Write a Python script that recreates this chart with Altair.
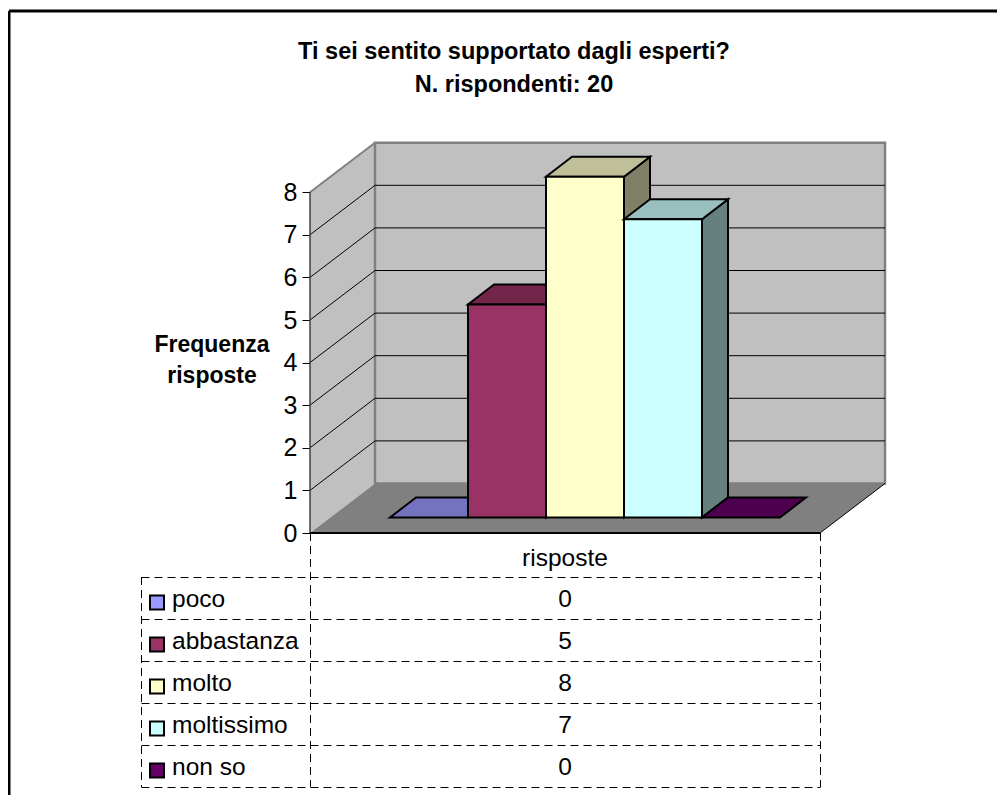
import altair as alt
import pandas as pd

categories = ["poco", "abbastanza", "molto", "moltissimo", "non so"]
values = [0, 5, 8, 7, 0]
front_colors = ["#9999ff", "#993366", "#ffffcc", "#ccffff", "#660066"]
top_colors = ["#7373bf", "#732649", "#bfbf99", "#99bfbf", "#4d004d"]
side_colors = ["#4d4d80", "#4d1933", "#808066", "#668080", "#330033"]
ticks = [0, 1, 2, 3, 4, 5, 6, 7, 8]
title_lines = ["Ti sei sentito supportato dagli esperti?", "N. rispondenti: 20"]
y_title_lines = ["Frequenza", "risposte"]
series_name = "risposte"

W, H = 989, 787
UNIT = 42.6
Y0 = 533.0
FONT = "Liberation Sans"


def X(px):
    return px - 8


def V(py):
    return (Y0 - py) / UNIT


xs = alt.Scale(domain=[0, W], range=[0, W], zero=False, nice=False)
ys = alt.Scale(domain=[V(8 + H), V(8)], zero=False, nice=False)
ex = alt.X("x:Q", scale=xs, axis=None)
ey = alt.Y(
    "y:Q",
    scale=ys,
    title=None,
    axis=alt.Axis(
        values=ticks, offset=-X(310), domain=False, grid=False, tickSize=8,
        tickColor="black", labelColor="black", labelFont=FONT, labelFontSize=25,
        labelPadding=5, format="d",
    ),
)


def vert(rows, **mk):
    d = pd.DataFrame(rows, columns=["x", "y", "y2"])
    return alt.Chart(d).mark_area(**mk).encode(x=ex, y=ey, y2="y2:Q")


def horiz(rows, **mk):
    d = pd.DataFrame(rows, columns=["y", "x", "x2"])
    return alt.Chart(d).mark_area(orient="horizontal", **mk).encode(y=ey, x=ex, x2="x2:Q")


def lines(rows, **mk):
    d = pd.DataFrame(rows, columns=["x", "y", "x2", "y2"])
    return alt.Chart(d).mark_rule(**mk).encode(x=ex, y=ey, x2="x2:Q", y2="y2:Q")


def texts(rows, **mk):
    d = pd.DataFrame(rows, columns=["x", "y", "t"])
    return alt.Chart(d).mark_text(font=FONT, **mk).encode(x=ex, y=ey, text="t:N")


layers = []

# walls and floor
DX, DV = 65, 49.5 / UNIT
WALL = "#c0c0c0"
GREY = "#808080"
FX0, FX1 = X(310), X(820)
layers.append(vert([[FX0, 8, 0], [FX0 + DX, 8 + DV, DV]], fill=WALL))
layers.append(vert([[FX0 + DX, 8 + DV, DV], [FX1 + DX, 8 + DV, DV]], fill=WALL, stroke=GREY, strokeWidth=2.5))
layers.append(horiz([[0, FX0, FX1], [DV, FX0 + DX, FX1 + DX]], fill=GREY))
layers.append(lines([[FX0 + DX, v + DV, FX1 + DX, v + DV] for v in range(1, 8)], color="black", strokeWidth=1))
layers.append(lines([[FX0, v, FX0 + DX, v + DV] for v in range(1, 8)], color="black", strokeWidth=1))
layers.append(lines([[FX0, 8, FX0 + DX, 8 + DV]], color=GREY, strokeWidth=2))
layers.append(lines([[FX0, 0, FX0, 8]], color="#404040", strokeWidth=1.5))
layers.append(lines([[FX1, 0, FX1 + DX, DV]], color="black", strokeWidth=1))
layers.append(lines([[FX0, 0, FX1, 0]], color="black", strokeWidth=2))

# 3D columns
BASE = V(517.5)
BW, BDX, BDV = 78, 26, 20 / UNIT
BX0 = X(390)
for i, val in enumerate(values):
    xl = BX0 + i * BW
    xr = xl + BW
    top = BASE + val
    if val > 0:
        layers.append(vert([[xr, top, BASE], [xr + BDX, top + BDV, BASE + BDV]],
                           fill=side_colors[i], stroke="black", strokeWidth=2))
    layers.append(horiz([[top, xl, xr], [top + BDV, xl + BDX, xr + BDX]],
                        fill=top_colors[i], stroke="black", strokeWidth=2))
    if val > 0:
        layers.append(vert([[xl, top, BASE], [xr, top, BASE]],
                           fill=front_colors[i], stroke="black", strokeWidth=2))

# data table grid
TX = [X(141) + 0.5, X(310) + 0.5, X(820) + 0.5]
ROW_Y = [577 + 42 * k for k in range(6)]
dash = dict(color="black", strokeWidth=1, strokeDash=[8, 5])
layers.append(lines([[TX[0], V(py + 0.5), TX[2], V(py + 0.5)] for py in ROW_Y], **dash))
layers.append(lines([[TX[0], V(577), TX[0], V(787)]], **dash))
layers.append(lines([[TX[1], 0, TX[1], V(787)], [TX[2], 0, TX[2], V(787)]], **dash))

# table text
layers.append(texts([[X(565), V(559), series_name]], fontSize=24.5, align="center", baseline="middle", color="black"))
row_c = [(ROW_Y[k] + ROW_Y[k + 1]) / 2 for k in range(5)]
layers.append(texts([[X(565), V(row_c[k] + 2), str(values[k])] for k in range(5)],
                    fontSize=24.5, align="center", baseline="middle", color="black"))
layers.append(texts([[X(172), V(row_c[k] + 2), categories[k]] for k in range(5)],
                    fontSize=24.5, align="left", baseline="middle", color="black"))
sw = pd.DataFrame({"x": [X(157)] * 5, "y": [V(c + 4.5) for c in row_c], "c": front_colors})
layers.append(alt.Chart(sw).mark_square(size=196, stroke="black", strokeWidth=2, opacity=1).encode(
    x=ex, y=ey, fill=alt.Fill("c:N", scale=None)))

# titles
layers.append(texts([[X(514), V(52), title_lines[0]], [X(514), V(85), title_lines[1]]],
                    fontSize=23.5, fontWeight="bold", align="center", baseline="middle", color="black"))
layers.append(texts([[X(212), V(345), y_title_lines[0]], [X(212), V(376), y_title_lines[1]]],
                    fontSize=23, fontWeight="bold", align="center", baseline="middle", color="black"))

# outer frame (only its top and left edges are in view)
layers.append(lines([[1, V(11), W, V(11)], [1, V(11), 1, V(8 + H)]], color="black", strokeWidth=3))

chart = (
    alt.layer(*layers)
    .properties(width=W, height=H, padding=0, autosize=alt.AutoSizeParams(type="none"), background="white")
    .configure_view(stroke=None)
)
chart.save("out.html", embed_options={"renderer": "svg", "actions": False})
